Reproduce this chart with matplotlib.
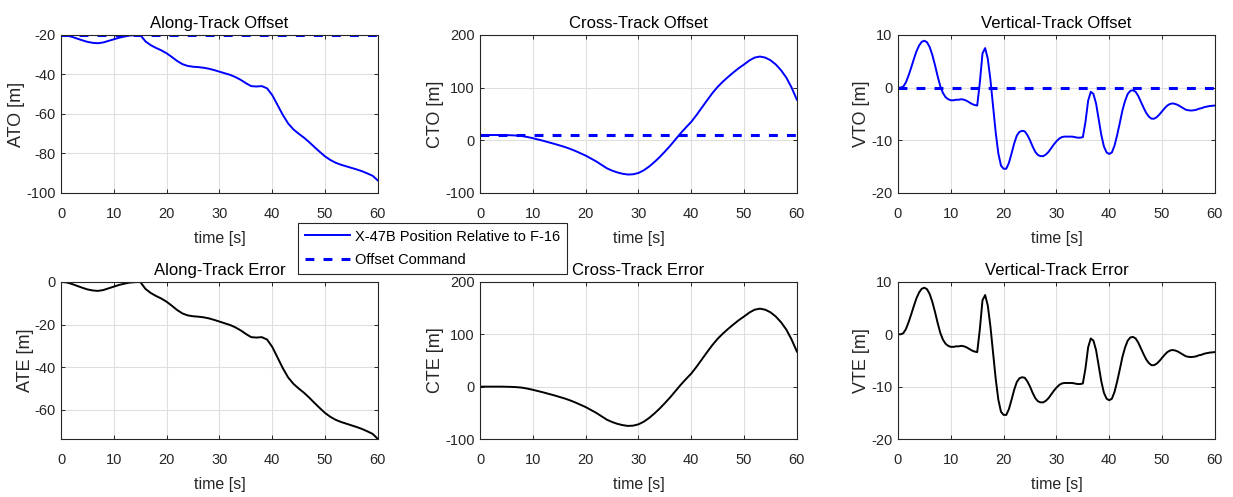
import matplotlib
matplotlib.use('Agg')
import numpy as np
import matplotlib.pyplot as plt

plt.rcParams['font.family'] = ['Liberation Sans', 'DejaVu Sans']
plt.rcParams['axes.unicode_minus'] = False

# time grids [s]
t1 = np.arange(0, 61, 1.0)
t_half = np.arange(0, 60.5, 0.5)

# commanded offsets [m]
ato_cmd = -20.0
cto_cmd = 10.0
vto_cmd = 0.0

# along-track offset, 1 s steps
ato = [-20.0, -20.2, -20.9, -21.8, -22.7, -23.5, -24.0, -24.2, -23.8, -23.0,
       -22.2, -21.4, -20.8, -20.3, -20.1, -20.0, -23.3, -25.2, -26.6, -27.8,
       -29.3, -31.2, -33.2, -34.8, -35.7, -36.1, -36.3, -36.6, -37.1, -37.8,
       -38.6, -39.4, -40.2, -41.3, -42.7, -44.4, -45.9, -46.1, -45.9, -47.0,
       -50.5, -55.5, -60.5, -64.8, -67.8, -70.0, -72.0, -74.3, -76.8, -79.2,
       -81.5, -83.3, -84.7, -85.7, -86.5, -87.3, -88.1, -89.0, -90.1, -91.3,
       -93.7]

# cross-track offset, 1 s steps
cto = [10.0, 10.0, 10.0, 10.0, 10.0, 9.8, 9.5, 9.0, 8.0, 6.2,
       4.0, 1.5, -1.0, -3.8, -6.5, -9.5, -12.5, -16.0, -20.0, -24.5,
       -29.0, -34.5, -40.0, -46.5, -53.0, -57.5, -61.0, -63.5, -65.0, -64.5,
       -62.0, -57.0, -50.0, -41.5, -32.0, -21.5, -10.5, 1.5, 13.5, 24.5,
       35.0, 48.0, 62.0, 76.0, 89.5, 101.5, 111.5, 120.5, 129.0, 137.0,
       144.0, 151.5, 157.0, 159.0, 157.0, 152.0, 144.0, 133.0, 119.0, 100.0,
       77.0]

# vertical-track offset, 0.5 s steps
vto = [0.0, 0.0, 0.2, 1.0, 2.3, 3.8, 5.4, 6.9, 8.0, 8.7,
       8.9, 8.6, 7.7, 6.2, 4.3, 2.2, 0.3, -1.0, -1.8, -2.2,
       -2.4, -2.4, -2.3, -2.3, -2.2, -2.3, -2.5, -2.8, -3.1, -3.3,
       -3.4, 1.0, 6.5, 7.5, 5.5, 1.5, -3.5, -8.5, -12.5, -14.8,
       -15.4, -15.4, -14.3, -12.5, -10.6, -9.1, -8.4, -8.2, -8.3, -9.0,
       -10.0, -11.2, -12.2, -12.8, -13.0, -13.0, -12.7, -12.2, -11.5, -10.8,
       -10.2, -9.7, -9.4, -9.3, -9.3, -9.3, -9.3, -9.4, -9.5, -9.5,
       -9.4, -6.5, -2.5, -0.8, -1.2, -3.0, -6.0, -9.0, -11.2, -12.3,
       -12.6, -12.3, -11.0, -9.0, -6.7, -4.3, -2.5, -1.2, -0.6, -0.5,
       -0.8, -1.6, -2.7, -3.8, -4.8, -5.5, -5.9, -5.9, -5.6, -5.1,
       -4.5, -3.9, -3.4, -3.1, -3.0, -3.1, -3.3, -3.6, -3.9, -4.2,
       -4.3, -4.35, -4.3, -4.2, -4.0, -3.9, -3.7, -3.6, -3.5, -3.45,
       -3.4]

# tracking errors = offset - command
ate = np.array(ato) - ato_cmd
cte = np.array(cto) - cto_cmd
vte = np.array(vto) - vto_cmd

fig = plt.figure(figsize=(12.33, 4.97), dpi=100)

xs = [0.0495, 0.3893, 0.7283]
w = 0.257
top_b, top_h = 0.6117, 0.318
bot_b, bot_h = 0.1167, 0.316

dash = (0, (2.9, 3.0))


def style(ax, title, ylabel, ylim, yticks):
    ax.set_xlim(0, 60)
    ax.set_xticks(range(0, 61, 10))
    ax.set_ylim(*ylim)
    ax.set_yticks(yticks)
    ax.grid(True, color='#dfdfdf', lw=0.8)
    ax.set_axisbelow(True)
    ax.tick_params(direction='in', top=True, right=True, length=3, width=0.7,
                   colors='#262626', labelsize=10.5)
    ax.tick_params(axis='x', pad=10)
    ax.tick_params(axis='y', pad=4)
    for s in ax.spines.values():
        s.set_color('#262626')
        s.set_linewidth(0.8)
    ax.set_title(title, fontsize=12, pad=5)
    ax.set_xlabel('time [s]', fontsize=11.5, labelpad=7, color='#262626')
    ax.set_ylabel(ylabel, fontsize=13, labelpad=0.5, color='#262626')


# top row: offsets
ax = fig.add_axes([xs[0], top_b, w, top_h])
h1, = ax.plot(t1, ato, color='blue', lw=1.4)
h2, = ax.plot([0, 60], [ato_cmd, ato_cmd], color='blue', lw=2.2, linestyle=dash)
style(ax, 'Along-Track Offset', 'ATO [m]', (-100, -20), range(-100, -19, 20))

ax = fig.add_axes([xs[1], top_b, w, top_h])
ax.plot(t1, cto, color='blue', lw=1.4)
ax.plot([0, 60], [cto_cmd, cto_cmd], color='blue', lw=2.2, linestyle=dash)
style(ax, 'Cross-Track Offset', 'CTO [m]', (-100, 200), range(-100, 201, 100))

ax = fig.add_axes([xs[2], top_b, w, top_h])
ax.plot(t_half, vto, color='blue', lw=1.4)
ax.plot([0, 60], [vto_cmd, vto_cmd], color='blue', lw=2.2, linestyle=dash)
style(ax, 'Vertical-Track Offset', 'VTO [m]', (-20, 10), range(-20, 11, 10))

# bottom row: errors
ax = fig.add_axes([xs[0], bot_b, w, bot_h])
ax.plot(t1, ate, color='black', lw=1.4)
style(ax, 'Along-Track Error', 'ATE [m]', (ate.min(), ate.max()), range(-60, 1, 20))

ax = fig.add_axes([xs[1], bot_b, w, bot_h])
ax.plot(t1, cte, color='black', lw=1.4)
style(ax, 'Cross-Track Error', 'CTE [m]', (-100, 200), range(-100, 201, 100))

ax = fig.add_axes([xs[2], bot_b, w, bot_h])
ax.plot(t_half, vte, color='black', lw=1.4)
style(ax, 'Vertical-Track Error', 'VTE [m]', (-20, 10), range(-20, 11, 10))

leg = fig.legend([h1, h2], ['X-47B Position Relative to F-16', 'Offset Command'],
                 loc='upper left', bbox_to_anchor=(0.2417, 0.5513), borderaxespad=0,
                 fontsize=10.5, handlelength=3.1, handletextpad=0.35,
                 borderpad=0.45, labelspacing=0.65, fancybox=False, framealpha=1)
leg.get_frame().set_edgecolor('#262626')
leg.get_frame().set_linewidth(0.8)

fig.savefig('out.png', dpi=100)
